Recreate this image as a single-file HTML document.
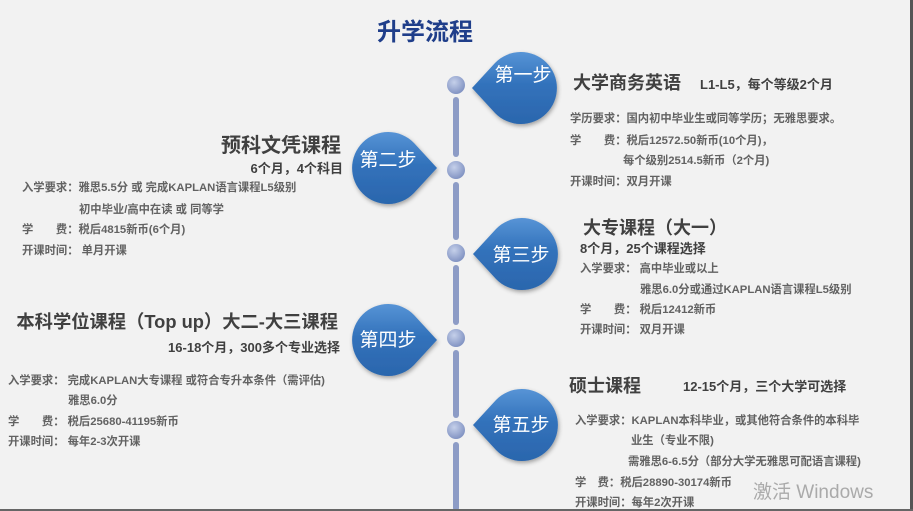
<!DOCTYPE html>
<html><head><meta charset="utf-8"><style>
html,body{margin:0;padding:0;background:#f2f2f2;}
svg{display:block;}
text{font-family:"Liberation Sans","Noto Sans CJK SC",sans-serif;}
.h{font-weight:bold;fill:#404040;}
.d{font-weight:bold;fill:#626262;font-size:11.3px;}
.b{fill:#fff;font-size:19px;}
</style></head><body>
<svg width="913" height="511" viewBox="0 0 913 511">
<defs>
<linearGradient id="g" x1="0" y1="0" x2="0" y2="1">
<stop offset="0" stop-color="#5794d6"/><stop offset="0.45" stop-color="#3272bb"/><stop offset="1" stop-color="#2b66ad"/></linearGradient>
<radialGradient id="ball" cx="0.4" cy="0.35" r="0.7"><stop offset="0" stop-color="#c5d0ea"/><stop offset="1" stop-color="#7d8fc0"/></radialGradient>
<filter id="sh" x="-20%" y="-20%" width="140%" height="140%"><feDropShadow dx="1" dy="2" stdDeviation="2" flood-color="#000" flood-opacity="0.35"/></filter>
</defs>
<rect width="913" height="511" fill="#f2f2f2"/>
<rect x="910" y="0" width="3" height="511" fill="#555"/>
<text x="425" y="40" text-anchor="middle" font-size="24" font-weight="bold" fill="#1f3e8a">升学流程</text>

<g fill="#8d9cc6">
<rect x="453" y="97" width="6" height="60" rx="3"/>
<rect x="453" y="182" width="6" height="58" rx="3"/>
<rect x="453" y="265" width="6" height="60" rx="3"/>
<rect x="453" y="350" width="6" height="68" rx="3"/>
<rect x="453" y="442" width="6" height="69" rx="3"/>
</g>
<g fill="url(#ball)">
<circle cx="456" cy="85" r="9"/><circle cx="456" cy="170" r="9"/><circle cx="456" cy="253" r="9"/><circle cx="456" cy="338" r="9"/><circle cx="456" cy="430" r="9"/>
</g>

<g filter="url(#sh)" fill="url(#g)">
<path d="M472 88 L495 63 A36 36 0 1 1 495 113 Z"/>
<path d="M437 168 L414 143 A36 36 0 1 0 414 193 Z"/>
<path d="M473 254 L496 229 A36 36 0 1 1 496 279 Z"/>
<path d="M437 340 L414 315 A36 36 0 1 0 414 365 Z"/>
<path d="M473 425 L496 400 A36 36 0 1 1 496 450 Z"/>
</g>
<text class="b" x="523" y="81" text-anchor="middle">第一步</text>
<text class="b" x="388" y="166" text-anchor="middle">第二步</text>
<text class="b" x="521" y="261" text-anchor="middle">第三步</text>
<text class="b" x="388" y="346" text-anchor="middle">第四步</text>
<text class="b" x="521" y="431" text-anchor="middle">第五步</text>

<text class="h" x="573" y="89" font-size="18">大学商务英语</text>
<text class="h" x="700" y="89" font-size="13">L1-L5，每个等级2个月</text>
<text class="d" x="570" y="122">学历要求：国内初中毕业生或同等学历；无雅思要求。</text>
<text class="d" x="570" y="144">学　　费：税后12572.50新币(10个月)，</text>
<text class="d" x="623" y="164">每个级别2514.5新币（2个月)</text>
<text class="d" x="570" y="185">开课时间：双月开课</text>

<text class="h" x="341" y="152" font-size="20" text-anchor="end">预科文凭课程</text>
<text class="h" x="343" y="173" font-size="13" text-anchor="end">6个月，4个科目</text>
<text class="d" x="22" y="191">入学要求：雅思5.5分  或 完成KAPLAN语言课程L5级别</text>
<text class="d" x="79" y="213">初中毕业/高中在读  或 同等学</text>
<text class="d" x="22" y="233">学　　费：税后4815新币(6个月)</text>
<text class="d" x="22" y="254">开课时间：  单月开课</text>

<text class="h" x="583" y="234" font-size="18">大专课程（大一）</text>
<text class="h" x="580" y="253" font-size="13">8个月，25个课程选择</text>
<text class="d" x="580" y="272">入学要求：  高中毕业或以上</text>
<text class="d" x="640" y="293">雅思6.0分或通过KAPLAN语言课程L5级别</text>
<text class="d" x="580" y="313">学　　费：  税后12412新币</text>
<text class="d" x="580" y="333">开课时间：  双月开课</text>

<text class="h" x="338" y="328" font-size="18.3" text-anchor="end">本科学位课程（Top up）大二-大三课程</text>
<text class="h" x="340" y="352" font-size="13" text-anchor="end">16-18个月，300多个专业选择</text>
<text class="d" x="8" y="384">入学要求：  完成KAPLAN大专课程   或符合专升本条件（需评估)</text>
<text class="d" x="68" y="404">雅思6.0分</text>
<text class="d" x="8" y="425">学　　费：  税后25680-41195新币</text>
<text class="d" x="8" y="445">开课时间：  每年2-3次开课</text>

<text class="h" x="569" y="392" font-size="18">硕士课程</text>
<text class="h" x="683" y="391" font-size="13">12-15个月，三个大学可选择</text>
<text class="d" x="575" y="424">入学要求：KAPLAN本科毕业，或其他符合条件的本科毕</text>
<text class="d" x="631" y="444">业生（专业不限)</text>
<text class="d" x="628" y="465">需雅思6-6.5分（部分大学无雅思可配语言课程)</text>
<text class="d" x="575" y="486">学　费：税后28890-30174新币</text>
<text class="d" x="575" y="506">开课时间：每年2次开课</text>

<text x="753" y="498" font-size="19" fill="#aaa">激活 Windows</text>
<rect x="0" y="509" width="913" height="2" fill="#666"/>
</svg>
</body></html>
